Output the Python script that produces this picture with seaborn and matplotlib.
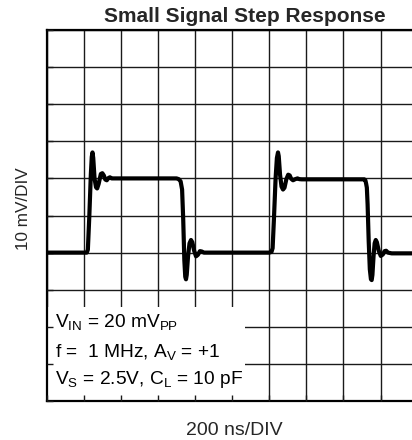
import matplotlib
matplotlib.use("Agg")
import matplotlib.pyplot as plt
import seaborn as sns
from matplotlib.patches import Rectangle

title = "Small Signal Step Response"
x_label = "200 ns/DIV"
y_label = "10 mV/DIV"
notes = [
    r"V$_{\rm IN}$ = 20 mV$_{\rm PP}$",
    r"f =  1 MHz, A$_{\rm V}$ = +1",
    r"V$_{\rm S}$ = 2.5V, C$_{\rm L}$ = 10 pF",
]

# Output trace: time in ns, output in mV (relative to the low level)
time_ns = [
    0, 216, 222, 230, 238, 243, 247, 251, 258, 266, 272, 280, 292, 300, 308,
    316, 324, 333, 341, 350, 360, 700, 712, 722, 730, 736, 742, 747, 751, 755,
    762, 770, 778, 785, 795, 805, 815, 826, 836, 848,
    1200, 1212, 1218, 1225, 1234, 1241, 1247, 1251, 1258, 1266, 1274, 1282,
    1292, 1302, 1310, 1318, 1328, 1340, 1352, 1362, 1375, 1712, 1718, 1722,
    1726, 1730, 1736, 1742, 1748, 1752, 1756, 1762, 1768, 1774, 1780, 1790,
    1801, 1812, 1822, 1830, 1840, 1860, 2000,
]
out_mv = [
    0, 0, 0.8, 10, 21, 25.8, 27, 25.5, 20, 17.6, 17.3, 18.5, 21.2, 21.4, 20.8,
    19.7, 19.5, 20.1, 20.3, 20.0, 20.0, 20.0, 19.8, 19.2, 17, 9, -2, -6.5, -7.2, -6,
    -1, 2.5, 3.4, 2.8, 0.5, -1.0, -0.6, 0.4, 0.3, 0,
    0, 0.2, 1.2, 9, 20, 25.5, 27, 26, 21, 17.8, 17, 17.5,
    19.8, 21, 20.8, 19.9, 19.5, 19.8, 20.0, 19.8, 19.75, 19.75, 19.5, 18.6,
    17.5, 13, 3, -4.5, -7.2, -7.4, -6, -1, 2.5, 3.4, 2.8, 0.5,
    -0.9, -0.5, 0.4, 0.5, 0, -0.2, -0.2,
]

x_ticks = list(range(0, 2001, 200))
y_ticks = list(range(-40, 61, 10))

sns.set_style("white")
plt.rcParams["font.family"] = ["Liberation Sans", "DejaVu Sans"]
plt.rcParams["mathtext.fontset"] = "custom"
plt.rcParams["mathtext.rm"] = "Liberation Sans"
plt.rcParams["mathtext.it"] = "Liberation Sans:italic"
plt.rcParams["mathtext.bf"] = "Liberation Sans:bold"

fig = plt.figure(figsize=(4.12, 4.40), dpi=100)
ax = fig.add_axes([0.1133, 0.0886, 0.9005, 0.8432])
ax.set_xlim(x_ticks[0], x_ticks[-1])
ax.set_ylim(y_ticks[0], y_ticks[-1])

# oscilloscope graticule
for t in x_ticks:
    ax.axvline(t, color="#1a1a1a", lw=1.0, zorder=1)
for v in y_ticks:
    ax.axhline(v, color="#1a1a1a", lw=1.0, zorder=1)

# white panel for the test conditions
ax.add_patch(Rectangle((0, 0), 0.534, 0.253, transform=ax.transAxes,
                       facecolor="white", edgecolor="none", zorder=2))

ax.set_axisbelow(False)
ax.set_xticks(x_ticks)
ax.set_yticks(y_ticks)
ax.tick_params(direction="in", length=4, width=1.0, color="#1a1a1a",
               bottom=True, left=True, top=False, right=False,
               labelbottom=False, labelleft=False)
for side, sp in ax.spines.items():
    sp.set_color("black")
    sp.set_linewidth(1.6)
    sp.set_visible(True)

sns.lineplot(x=time_ns, y=out_mv, ax=ax, color="black", lw=3.0,
             sort=False, estimator=None, zorder=3)
trace = ax.lines[-1]
trace.set_solid_joinstyle("round")
trace.set_solid_capstyle("round")

for note, yb in zip(notes, [0.200, 0.118, 0.046]):
    ax.text(0.022, yb, note, transform=ax.transAxes, ha="left", va="baseline",
            fontsize=13.8, color="black", zorder=4)

fig.text(245 / 412, 1 - 22 / 440, title, ha="center", va="baseline",
         fontsize=15, fontweight="bold")
fig.text(234 / 412, 1 - 435 / 440, x_label, ha="center", va="baseline",
         fontsize=14)
fig.text(24 / 412, 1 - 209 / 440, y_label, ha="center", va="center",
         rotation=90, fontsize=12.3)

fig.savefig("out.png", dpi=100)
